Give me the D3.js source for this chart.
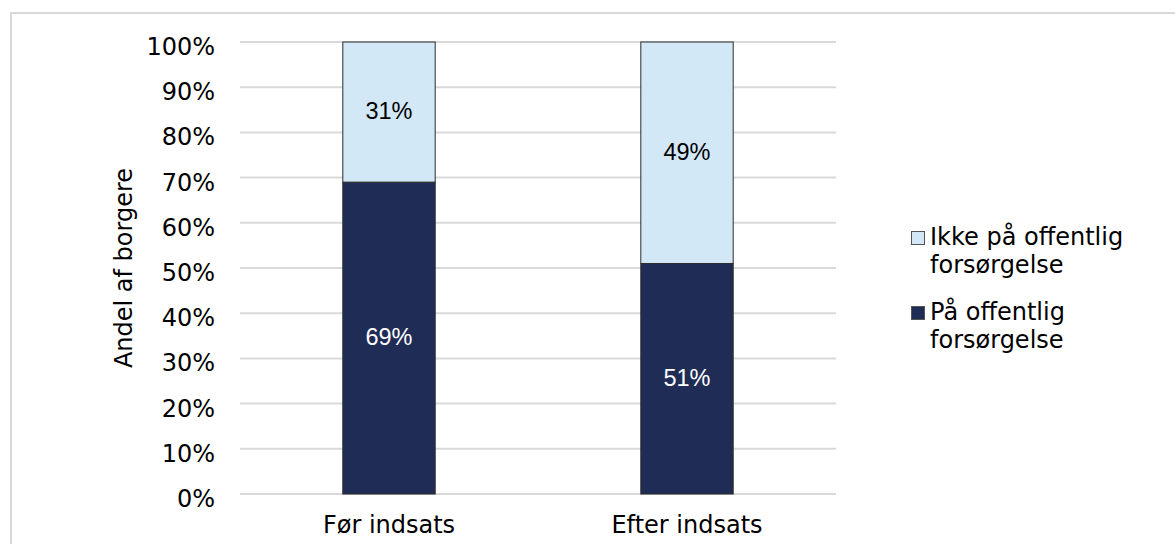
<!DOCTYPE html>
<html>
<head>
<meta charset="utf-8">
<script src="https://cdn.jsdelivr.net/npm/d3@7"></script>
<style>
  html, body { margin: 0; padding: 0; background: #fff; }
  svg { display: block; }
</style>
</head>
<body>
<svg id="chart" width="1175" height="544"></svg>
<script>
// Share of citizens on / off public support, before and after the intervention
const categories = ["Før indsats", "Efter indsats"];
const paaOffentlig = [69, 51];        // "På offentlig forsørgelse"
const ikkePaaOffentlig = [31, 49];    // "Ikke på offentlig forsørgelse"
const yTicks = [0, 10, 20, 30, 40, 50, 60, 70, 80, 90, 100];
const legendLines = [["Ikke på offentlig", "forsørgelse"], ["På offentlig", "forsørgelse"]];
const yTitle = "Andel af borgere";

const colors = { paa: "#1f2c55", ikke: "#d3e8f6" };
const font = "'DejaVu Sans', Verdana, sans-serif";
const labelFont = "'Liberation Sans', Arial, sans-serif";
const fontSize = 24;

const svg = d3.select("#chart");

// outer chart frame (runs off the right and bottom edges)
svg.append("rect")
  .attr("x", 11).attr("y", 13)
  .attr("width", 1200).attr("height", 600)
  .attr("fill", "#fff")
  .attr("stroke", "#d9d9d9").attr("stroke-width", 2);

const plot = { left: 240, right: 836, top: 42, bottom: 494 };

const x = d3.scaleBand()
  .domain(categories)
  .range([plot.left, plot.right])
  .paddingInner(0.69).paddingOuter(0.345);

const y = d3.scaleLinear().domain([0, 100]).range([plot.bottom, plot.top]);

// horizontal gridlines
svg.append("g")
  .selectAll("line")
  .data(yTicks)
  .join("line")
  .attr("x1", plot.left).attr("x2", plot.right)
  .attr("y1", d => y(d)).attr("y2", d => y(d))
  .attr("stroke", "#d9d9d9").attr("stroke-width", 2);

// y axis tick labels
const yAxis = d3.axisLeft(y).tickValues(yTicks).tickFormat(d => d + "%").tickSize(0).tickPadding(0);
const yg = svg.append("g").attr("transform", `translate(${plot.left - 25},0)`).call(yAxis);
yg.select(".domain").remove();
yg.selectAll("text")
  .attr("font-family", font).attr("font-size", fontSize).attr("fill", "#000")
  .attr("dy", "0.52em");

// x axis category labels
const xAxis = d3.axisBottom(x).tickSize(0).tickPadding(0);
const xg = svg.append("g").attr("transform", `translate(0,${plot.bottom + 39})`).call(xAxis);
xg.select(".domain").remove();
xg.selectAll("text")
  .attr("font-family", font).attr("font-size", fontSize).attr("fill", "#000")
  .attr("dy", 0);

// y axis title
svg.append("text")
  .attr("transform", `translate(132,${(plot.top + plot.bottom) / 2}) rotate(-90)`)
  .attr("text-anchor", "middle")
  .attr("font-family", font).attr("font-size", fontSize).attr("fill", "#000")
  .text(yTitle);

// stacked bars
const rows = categories.map((c, i) => ({ cat: c, paa: paaOffentlig[i], ikke: ikkePaaOffentlig[i] }));
const stack = d3.stack().keys(["paa", "ikke"])(rows);

const layers = svg.append("g").selectAll("g")
  .data(stack)
  .join("g")
  .attr("fill", d => colors[d.key]);

layers.selectAll("rect")
  .data(d => d)
  .join("rect")
  .attr("x", d => x(d.data.cat))
  .attr("width", x.bandwidth())
  .attr("y", d => y(d[1]))
  .attr("height", d => y(d[0]) - y(d[1]))
  .attr("stroke", "#2b2b2b").attr("stroke-width", 1);

// value labels centred in each segment
layers.selectAll("text")
  .data(d => d.map(v => ({ v, key: d.key })))
  .join("text")
  .attr("x", d => x(d.v.data.cat) + x.bandwidth() / 2)
  .attr("y", d => y((d.v[0] + d.v[1]) / 2))
  .attr("dy", "0.3em")
  .attr("text-anchor", "middle")
  .attr("font-family", labelFont).attr("font-size", 23.5)
  .attr("fill", d => d.key === "paa" ? "#fff" : "#000")
  .text(d => (d.v[1] - d.v[0]) + "%");

// legend
const legend = svg.append("g").attr("transform", "translate(911,0)");
const legendItems = [
  { fill: colors.ikke, lines: legendLines[0], y: 245 },
  { fill: colors.paa, lines: legendLines[1], y: 320 }
];
legendItems.forEach(item => {
  legend.append("rect")
    .attr("x", 0.5).attr("y", item.y - 13.5)
    .attr("width", 13).attr("height", 13)
    .attr("fill", item.fill)
    .attr("stroke", "#555").attr("stroke-width", 1);
  const t = legend.append("text")
    .attr("font-family", font).attr("font-size", fontSize).attr("fill", "#000");
  item.lines.forEach((ln, i) => {
    t.append("tspan").attr("x", 19).attr("y", item.y + i * 28).text(ln);
  });
});
</script>
</body>
</html>
